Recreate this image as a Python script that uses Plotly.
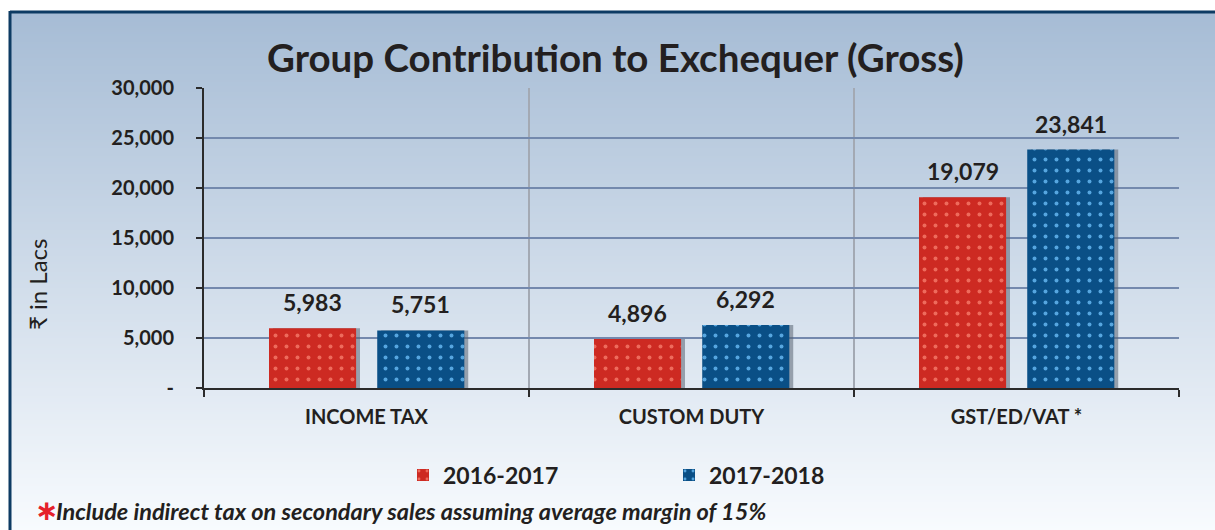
import plotly.graph_objects as go

categories = ["INCOME TAX", "CUSTOM DUTY", "GST/ED/VAT *"]
values_2016_17 = [5983, 4896, 19079]
values_2017_18 = [5751, 6292, 23841]
series_names = ["2016-2017", "2017-2018"]
y_tickvals = [0, 5000, 10000, 15000, 20000, 25000, 30000]
y_ticktext = ["-", "5,000", "10,000", "15,000", "20,000", "25,000", "30,000"]

FONT = "Lato"
TXT = "#231f20"

# figure geometry (px)
W, H = 1215, 530
L, R, T, B = 204, 36, 88, 142
PW, PH = W - L - R, H - T - B


def px_x(px):
    return (px - L) / PW


def px_y(py):
    return (H - B - py) / PH


fig = go.Figure()

bar_w = 0.268
offsets = [-0.3, 0.033]
colors = [("#cd2a22", "#ee6b5c"), ("#0a4f86", "#56a6e0")]
series = [values_2016_17, values_2017_18]

# shadows
for vals, off in zip(series, offsets):
    fig.add_trace(go.Bar(
        x=categories, y=vals, width=bar_w, offset=off + 0.012,
        marker=dict(color="rgba(90,100,115,0.55)", line=dict(width=0)),
        showlegend=False, hoverinfo="skip"))

for vals, off, (bg, fg), name in zip(series, offsets, colors, series_names):
    fig.add_trace(go.Bar(
        x=categories, y=vals, width=bar_w, offset=off, name=name,
        marker=dict(color=bg, line=dict(width=0),
                    pattern=dict(shape=".", bgcolor=bg, fgcolor=fg,
                                 size=11, solidity=0.1, fillmode="replace"))))

annotations = []
for vals, off in zip(series, offsets):
    for i, v in enumerate(vals):
        annotations.append(dict(
            x=i + off + bar_w / 2, y=v, xref="x", yref="y",
            text=f"{v:,}", showarrow=False, yshift=26, yanchor="middle",
            font=dict(family=FONT, size=23, color=TXT, weight="bold")))

annotations.append(dict(
    x=px_x(615), y=px_y(57), xref="paper", yref="paper",
    text="Group Contribution to Exchequer (Gross)", showarrow=False,
    xanchor="center", yanchor="middle",
    font=dict(family=FONT, size=38.5, color=TXT, weight="bold")))
annotations.append(dict(
    x=px_x(37), y=px_y(285), xref="paper", yref="paper",
    text="\u20b9 in Lacs", showarrow=False, textangle=-90,
    xanchor="center", yanchor="middle",
    font=dict(family=FONT, size=24, color=TXT)))
annotations.append(dict(
    x=px_x(33), y=px_y(510), xref="paper", yref="paper",
    text="<b>\u2217</b>", showarrow=False, xanchor="left", yanchor="middle",
    font=dict(family="DejaVu Sans", size=28, color="#e5202a")))
annotations.append(dict(
    x=px_x(54), y=px_y(511), xref="paper", yref="paper",
    text="<b><i>Include indirect tax on secondary sales assuming average margin of 15%</i></b>",
    showarrow=False, xanchor="left", yanchor="middle",
    font=dict(family=FONT, size=23.5, color=TXT)))

# background gradient stripes + frame
shapes = []
top_c = (166, 188, 213)
bot_c = (248, 251, 254)
y0 = 12
step = 2
py = y0
while py < H:
    f = (py - y0) / (H - y0)
    c = tuple(round(top_c[k] + (bot_c[k] - top_c[k]) * f) for k in range(3))
    shapes.append(dict(type="rect", xref="paper", yref="paper", layer="below",
                       x0=px_x(10), x1=px_x(W + 5), y0=px_y(py + step + 0.5), y1=px_y(py),
                       fillcolor=f"rgb{c}", line=dict(width=0)))
    py += step
shapes.append(dict(type="line", xref="paper", yref="paper", layer="above",
                   x0=px_x(10), x1=px_x(W + 5), y0=px_y(12), y1=px_y(12),
                   line=dict(color="#0d3b63", width=3)))
shapes.append(dict(type="line", xref="paper", yref="paper", layer="above",
                   x0=px_x(10), x1=px_x(10), y0=px_y(11), y1=px_y(H + 5),
                   line=dict(color="#0d3b63", width=3)))

fig.update_layout(
    width=W, height=H,
    margin=dict(l=L, r=R, t=T, b=B),
    paper_bgcolor="white", plot_bgcolor="rgba(0,0,0,0)",
    barmode="overlay",
    annotations=annotations, shapes=shapes,
    legend=dict(orientation="h", x=px_x(403), y=px_y(475),
                xanchor="left", yanchor="middle",
                entrywidth=221, entrywidthmode="pixels",
                bgcolor="rgba(0,0,0,0)",
                font=dict(family=FONT, size=23, color=TXT, weight="bold")),
    xaxis=dict(type="category", tickson="boundaries", showgrid=True,
               gridcolor="#a3a9b3", gridwidth=1.5,
               showline=True, linecolor="#2b2b2b", linewidth=2,
               ticks="outside", ticklen=7, tickcolor="#2b2b2b", tickwidth=2,
               ticklabelstandoff=10, range=[-0.5, 2.5],
               tickfont=dict(family=FONT, size=20, color=TXT, weight="bold")),
    yaxis=dict(range=[0, 30000], tickvals=y_tickvals, ticktext=y_ticktext,
               showgrid=True, gridcolor="#7489ad", gridwidth=2,
               zeroline=False,
               showline=True, linecolor="#2b2b2b", linewidth=2,
               ticks="outside", ticklen=6, tickcolor="#2b2b2b", tickwidth=2,
               ticklabelstandoff=18,
               tickfont=dict(family=FONT, size=20, color=TXT, weight="bold")),
)

fig.write_html("out.html", config={"displayModeBar": False},
               post_script="document.body.style.margin='0';document.body.style.overflow='hidden';")
